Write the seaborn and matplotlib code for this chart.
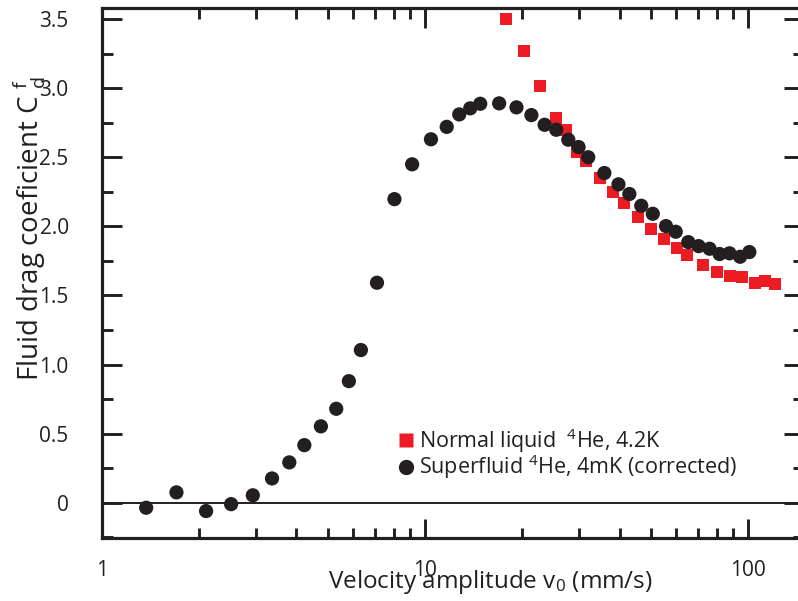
import numpy as np
import pandas as pd
import matplotlib
matplotlib.use("Agg")
import matplotlib.pyplot as plt
import seaborn as sns
from matplotlib.ticker import NullLocator, FixedLocator, FixedFormatter
from matplotlib.lines import Line2D

# Superfluid 4He, 4 mK (corrected)
sf_v = [1.37, 1.70, 2.10, 2.51, 2.93, 3.36, 3.80, 4.23, 4.76, 5.31, 5.81, 6.33,
        7.10, 8.04, 9.12, 10.43, 11.67, 12.76, 13.80, 14.82, 16.96, 19.19, 21.34,
        23.45, 25.48, 27.76, 29.87, 32.0, 35.9, 39.7, 42.9, 46.7, 50.7, 55.7,
        59.7, 65.3, 70.3, 76.0, 81.6, 87.6, 94.5, 100.9]
sf_cd = [-0.036, 0.075, -0.06, -0.01, 0.054, 0.176, 0.292, 0.417, 0.553, 0.68,
         0.88, 1.105, 1.592, 2.197, 2.449, 2.63, 2.72, 2.81, 2.854, 2.887, 2.89,
         2.861, 2.805, 2.735, 2.699, 2.627, 2.574, 2.50, 2.386, 2.304, 2.234,
         2.149, 2.091, 2.002, 1.961, 1.886, 1.857, 1.838, 1.80, 1.805, 1.78, 1.814]

# Normal liquid 4He, 4.2 K
nl_v = [17.82, 20.27, 22.76, 25.37, 27.4, 29.6, 31.5, 34.7, 38.1, 41.4, 45.7,
        50.1, 54.8, 60.1, 64.9, 72.3, 80.0, 87.9, 95.5, 105.1, 112.8, 121.1]
nl_cd = [3.498, 3.27, 3.015, 2.786, 2.70, 2.54, 2.47, 2.347, 2.25, 2.166, 2.065,
         1.983, 1.906, 1.841, 1.792, 1.72, 1.672, 1.643, 1.635, 1.588, 1.604, 1.58]

y_ticks = [0, 0.5, 1.0, 1.5, 2.0, 2.5, 3.0, 3.5]
y_ticklabels = ["0", "0.5", "1.0", "1.5", "2.0", "2.5", "3.0", "3.5"]
y_minor = [-0.25, 0.25, 0.75, 1.25, 1.75, 2.25, 2.75, 3.25]
x_ticks = [1, 10, 100]
x_ticklabels = ["1", "10", "100"]
x_minor = [2, 3, 4, 5, 6, 7, 8, 9, 20, 30, 40, 50, 60, 70, 80, 90]

label_nl = r"Normal liquid  $^{4}$He, 4.2K"
label_sf = r"Superfluid $^{4}$He, 4mK (corrected)"

RED = "#ed1c24"
BLACK = "#231f20"

sns.set_theme(style="ticks")
plt.rcParams.update({
    "font.family": ["Open Sans", "DejaVu Sans"],
    "mathtext.fontset": "custom",
    "mathtext.rm": "Open Sans",
    "mathtext.it": "Open Sans",
    "mathtext.default": "regular",
    "text.color": BLACK,
    "axes.labelcolor": BLACK,
    "axes.edgecolor": BLACK,
    "axes.linewidth": 2.3,
    "axes.axisbelow": False,
})

W, H = 798, 601
AX_L, AX_R, AX_T, AX_B = 102, 803, 8, 538
fig = plt.figure(figsize=(W / 100, H / 100), dpi=100)
ax = fig.add_axes([AX_L / W, (H - AX_B) / H, (AX_R - AX_L) / W, (AX_B - AX_T) / H])

df_sf = pd.DataFrame({"v": sf_v, "cd": sf_cd})
df_nl = pd.DataFrame({"v": nl_v, "cd": nl_cd})

ax.axhline(0, color=BLACK, lw=1.4, zorder=1)
sns.scatterplot(data=df_nl, x="v", y="cd", ax=ax, marker="s", s=75, color=RED,
                edgecolor="none", linewidth=0, zorder=2, legend=False)
sns.scatterplot(data=df_sf, x="v", y="cd", ax=ax, marker="o", s=105, color=BLACK,
                edgecolor="none", linewidth=0, zorder=3, legend=False)
ax.set_xscale("log")

ax.set_xlim(1, 10 ** 2.17)
ax.set_ylim(-0.255, 3.58)

ax.xaxis.set_major_locator(FixedLocator(x_ticks))
ax.xaxis.set_major_formatter(FixedFormatter(x_ticklabels))
ax.xaxis.set_minor_locator(NullLocator())
ax.yaxis.set_major_locator(FixedLocator(y_ticks))
ax.yaxis.set_major_formatter(FixedFormatter(y_ticklabels))
ax.yaxis.set_minor_locator(NullLocator())

# tick labels only; the inward tick marks are drawn as line collections below
ax.tick_params(which="both", length=0, labelsize=15, labelcolor=BLACK)
ax.tick_params(axis="x", which="major", pad=16)
ax.tick_params(axis="y", which="major", pad=24)

# inward tick marks on all four sides (lengths in pixels -> axes fraction)
px_w = AX_R - AX_L
px_h = AX_B - AX_T
maj, mnr = 19.5, 10.5
tick_kw = dict(color=BLACK, linewidth=2.1, clip_on=False, zorder=6)
xt = ax.get_xaxis_transform()
yt = ax.get_yaxis_transform()
for pos, ln in ((x_ticks, maj), (x_minor, mnr)):
    ax.vlines(pos, 0, ln / px_h, transform=xt, **tick_kw)
    ax.vlines(pos, 1 - ln / px_h, 1, transform=xt, **tick_kw)
for pos, ln in ((y_ticks, maj), (y_minor, mnr)):
    ax.hlines(pos, 0, ln / px_w, transform=yt, **tick_kw)
    ax.hlines(pos, 1 - ln / px_w, 1, transform=yt, **tick_kw)

ax.set_xlabel(r"Velocity amplitude v$_{0}$ (mm/s)", fontsize=17.5)
ax.set_ylabel(r"Fluid drag coeficient C $^{f}_{d}$", fontsize=20)
ax.xaxis.set_label_coords((490 - AX_L) / px_w, -(568 - AX_B) / px_h)
ax.yaxis.set_label_coords(-(AX_L - 48) / px_w, (AX_B - 229) / px_h)

handles = [
    Line2D([], [], ls="none", marker="s", ms=10.5, color=RED, mec="none"),
    Line2D([], [], ls="none", marker="o", ms=11, color=BLACK, mec="none"),
]
ax.legend(handles, [label_nl, label_sf], loc="upper left",
          bbox_to_anchor=((400 - AX_L) / px_w, (AX_B - 426) / px_h),
          frameon=False, fontsize=15.5, handlelength=0.6, handletextpad=0.3,
          labelspacing=-0.1, borderaxespad=0, borderpad=0)

fig.savefig("out.png", dpi=100)
